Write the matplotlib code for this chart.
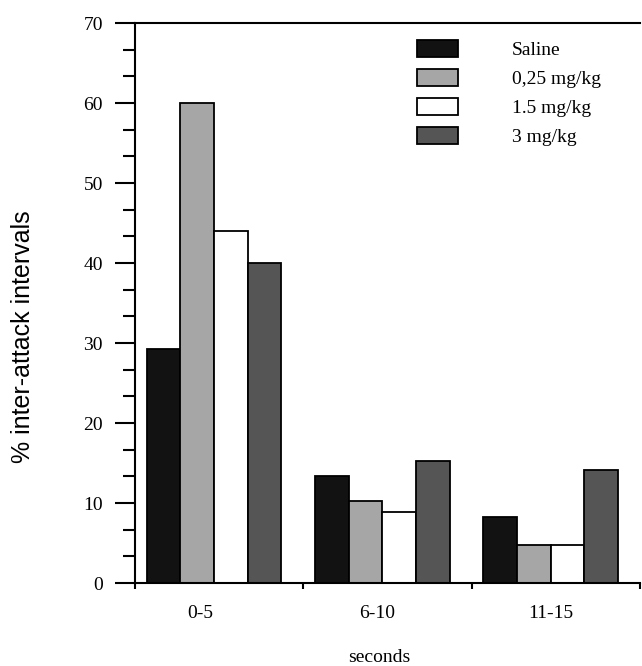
import matplotlib
matplotlib.use("Agg")
import matplotlib.pyplot as plt
import numpy as np

categories = ["0-5", "6-10", "11-15"]
series_names = ["Saline", "0,25 mg/kg", "1.5 mg/kg", "3 mg/kg"]
saline = [29.2, 13.4, 8.2]
dose_025 = [60.0, 10.2, 4.8]
dose_15 = [44.0, 8.9, 4.8]
dose_3 = [40.0, 15.2, 14.1]
yticks = [0, 10, 20, 30, 40, 50, 60, 70]

values = [saline, dose_025, dose_15, dose_3]
colors = ["#121212", "#a6a6a6", "#ffffff", "#555555"]
label_shift = [-0.11, -0.06, -0.03]

fig = plt.figure(figsize=(6.42, 6.66), dpi=100)
W, H = 642, 666
ax = fig.add_axes([135 / W, (H - 583) / H, (640 - 135) / W, (583 - 23) / H])

x = np.arange(len(categories))
bw = 0.2
for k, (vals, name, c) in enumerate(zip(values, series_names, colors)):
    ax.bar(x + (k - 1.5) * bw - 0.03, vals, width=bw, color=c, edgecolor="black",
           linewidth=1.3, label=name, zorder=2)

serif = ["Liberation Serif", "DejaVu Serif"]
ax.set_xlim(-0.5, 2.5)
ax.set_ylim(0, 70)
ax.set_yticks(yticks)
ax.set_yticks(np.arange(0, 70.01, 10 / 3), minor=True)
ax.tick_params(axis="y", which="major", direction="out", length=14.4, width=1.5,
               labelsize=14, pad=8.6)
ax.tick_params(axis="y", which="minor", direction="out", length=8.6, width=1.5)
for lab in ax.get_yticklabels():
    lab.set_family(serif)

ax.set_xticks([-0.5, 0.5, 1.5, 2.5])
ax.set_xticklabels([])
ax.tick_params(axis="x", which="major", direction="out", length=4, width=1.5)
ax.set_xticks(x + np.array(label_shift), minor=True)
ax.set_xticklabels(categories, minor=True, fontsize=14, family=serif)
ax.tick_params(axis="x", which="minor", length=0, pad=16)

for s in ["left", "bottom", "top"]:
    ax.spines[s].set_linewidth(1.5)
ax.spines["right"].set_visible(False)

fig.text(23 / W, 1 - 337 / H, "% inter-attack intervals", rotation=90,
         ha="center", va="center", fontsize=18, family=["Liberation Sans", "DejaVu Sans"])
fig.text(379 / W, 1 - 658 / H, "seconds", ha="center", va="center", fontsize=14,
         family=serif)

leg = ax.legend(loc="upper left", bbox_to_anchor=((409 - 135) / (640 - 135), 1 - 9 / 560),
                frameon=False, fontsize=14, handlelength=2.1, handleheight=1.0,
                handletextpad=2.8, labelspacing=0.5, borderaxespad=0)
for t in leg.get_texts():
    t.set_family(serif)

fig.savefig("out.png", dpi=100)
